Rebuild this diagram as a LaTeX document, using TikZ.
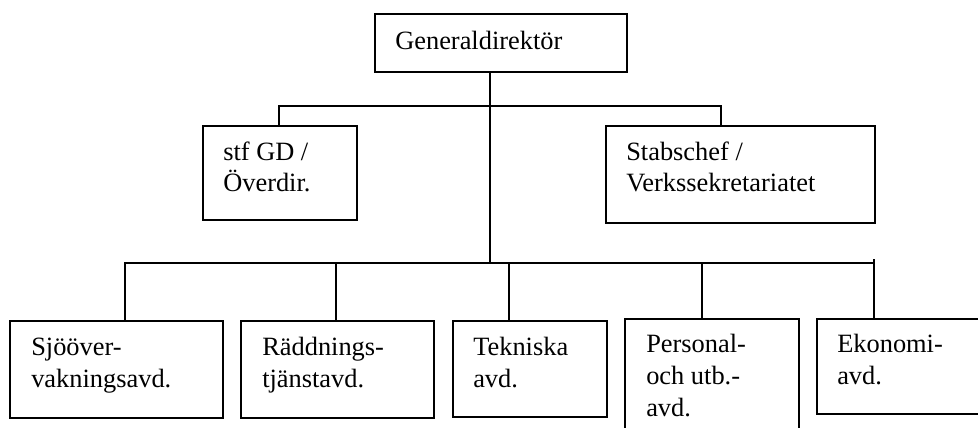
\documentclass[tikz,border=0pt]{standalone}
\usepackage{fontspec}
\setmainfont{Liberation Serif}
\newcommand{\stack}[1]{\begin{tabular}[t]{@{}l@{}}#1\end{tabular}}
\begin{document}
\begin{tikzpicture}[x=0.75pt,y=-0.75pt,
  unitbox/.style={draw=black,line width=1.4pt,rectangle,inner sep=0pt,anchor=north west},
  caption/.style={anchor=base west,inner sep=0pt,font=\fontsize{19.8pt}{24pt}\selectfont},
  link/.style={draw=black,line width=1.4pt}]
\useasboundingbox (0,0) rectangle (978,428);
\clip (0,0) rectangle (978,428);

% boxes
\node[unitbox,minimum width=252*0.75pt,minimum height=58*0.75pt] (gd)   at (374,13)  {};
\node[unitbox,minimum width=154*0.75pt,minimum height=94*0.75pt] (stf)  at (202,125) {};
\node[unitbox,minimum width=269*0.75pt,minimum height=97*0.75pt] (stab) at (605,125) {};
\node[unitbox,minimum width=213*0.75pt,minimum height=97*0.75pt] (sjo)  at (9,320)   {};
\node[unitbox,minimum width=193*0.75pt,minimum height=97*0.75pt] (radd) at (240,320) {};
\node[unitbox,minimum width=154*0.75pt,minimum height=96*0.75pt] (tek)  at (452,320) {};
\node[unitbox,minimum width=174*0.75pt,minimum height=130*0.75pt] (pers) at (624,318) {};
\node[unitbox,minimum width=260*0.75pt,minimum height=95*0.75pt] (eko)  at (816,318) {};

% texts
\node[caption] (gdt)   at ([shift={(21,37)}]gd.north west)   {Generaldirektör};
\node[caption] (stft)  at ([shift={(21,35)}]stf.north west)  {\stack{stf GD /\\Överdir.}};
\node[caption] (stabt) at ([shift={(21,35)}]stab.north west) {\stack{Stabschef /\\Verkssekretariatet}};
\node[caption] (sjot)  at ([shift={(22,35)}]sjo.north west)  {\stack{Sjööver-\\vakningsavd.}};
\node[caption] (raddt) at ([shift={(22,35)}]radd.north west) {\stack{Räddnings-\\tjänstavd.}};
\node[caption] (tekt)  at ([shift={(21,35)}]tek.north west)  {\stack{Tekniska\\avd.}};
\node[caption] (perst) at ([shift={(22,34)}]pers.north west) {\stack{Personal-\\och utb.-\\avd.}};
\node[caption] (ekot)  at ([shift={(21,34)}]eko.north west)  {\stack{Ekonomi-\\avd.}};

% connector points
\coordinate (hub) at (490,263);
\coordinate (stfdrop) at (279,106);
\coordinate (stabdrop) at (721,106);
\coordinate (d1) at (125,263);
\coordinate (d2) at (336,263);
\coordinate (d3) at (509,263);
\coordinate (d4) at (702,263);
\coordinate (d5) at (874,259);

% connectors
\draw[link] (gd.south -| hub) -- (hub);
\draw[link] (stf.north -| stfdrop) -- (stfdrop) -- (stabdrop) -- (stab.north -| stabdrop);
\draw[link] (sjo.north -| d1) -- (d1) -- (d1 -| d5);
\draw[link] (d2) -- (radd.north -| d2);
\draw[link] (d3) -- (tek.north -| d3);
\draw[link] (d4) -- (pers.north -| d4);
\draw[link] (d5) -- (eko.north -| d5);
\end{tikzpicture}
\end{document}
